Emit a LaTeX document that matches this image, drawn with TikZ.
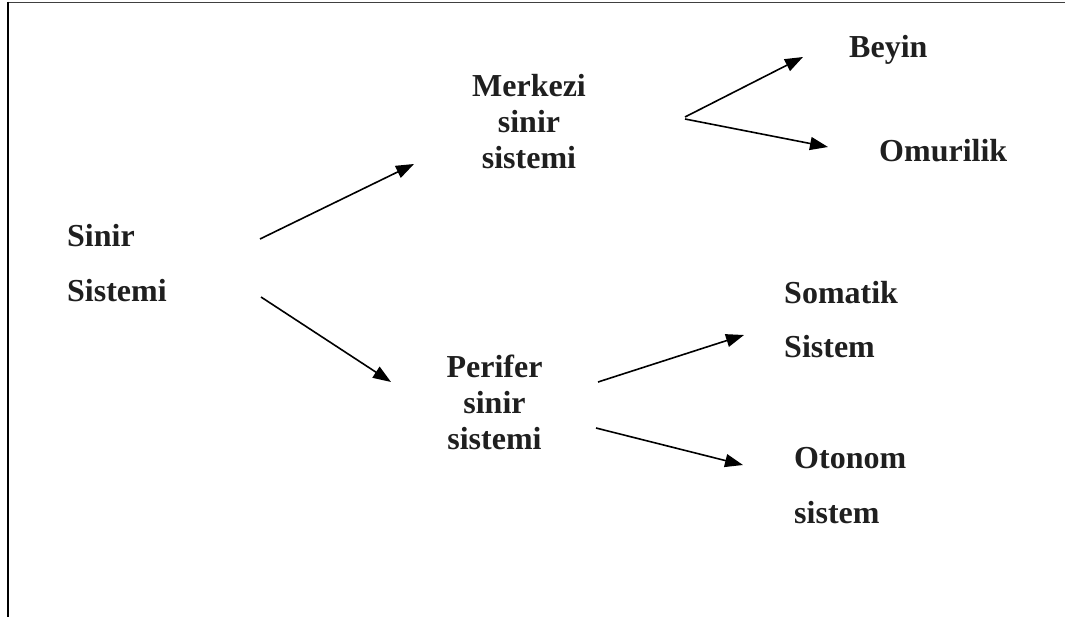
\documentclass[tikz,border=0pt]{standalone}
\usepackage{fontspec}
\setmainfont{Liberation Serif}
\usetikzlibrary{arrows.meta}
\begin{document}
\begin{tikzpicture}[x=1pt,y=-1pt,
  lbl/.style={inner sep=0pt,font=\bfseries\fontsize{32}{36}\selectfont,text=black!88},
  lblc/.style={lbl,align=center,anchor=base},
  lbll/.style={lbl,align=left,anchor=base west,font=\bfseries\fontsize{32}{54.5}\selectfont},
  conn/.style={line width=1.6pt,-{Triangle[length=18pt,width=13pt]}}]
\useasboundingbox (0,0) rectangle (1065,617);
% frame
\draw[line width=1.3pt,black!75] (7.5,2.3) -- (1065,2.3);
\draw[line width=1.8pt] (8.2,1.6) -- (8.2,617);
% labels (base anchor = baseline of the last line)
\node[lbll] (sinir) at (67,301.5) {Sinir\\Sistemi};
\node[lblc] (merkezi) at (529,169) {Merkezi\\sinir\\sistemi};
\node[lblc] (perifer) at (494.5,449) {Perifer\\sinir\\sistemi};
\node[lbl,anchor=base west] (beyin) at (849,58) {Beyin};
\node[lbl,anchor=base west] (omurilik) at (879,162) {Omurilik};
\node[lbll] (somatik) at (784,358) {Somatik\\Sistem};
\node[lbll] (otonom) at (794,523) {Otonom\\sistem};
% arrow ends
\coordinate (a1s) at (260,239); \coordinate (a1e) at (414,164);
\coordinate (a2s) at (261,297); \coordinate (a2e) at (391,382);
\coordinate (a3s) at (685,117); \coordinate (a3e) at (803,57);
\coordinate (a4s) at (685,119); \coordinate (a4e) at (828,147);
\coordinate (a5s) at (598,382); \coordinate (a5e) at (744,335);
\coordinate (a6s) at (596,428); \coordinate (a6e) at (743,465);
\draw[conn] (a1s) -- (a1e);
\draw[conn] (a2s) -- (a2e);
\draw[conn] (a3s) -- (a3e);
\draw[conn] (a4s) -- (a4e);
\draw[conn] (a5s) -- (a5e);
\draw[conn] (a6s) -- (a6e);
\end{tikzpicture}
\end{document}
